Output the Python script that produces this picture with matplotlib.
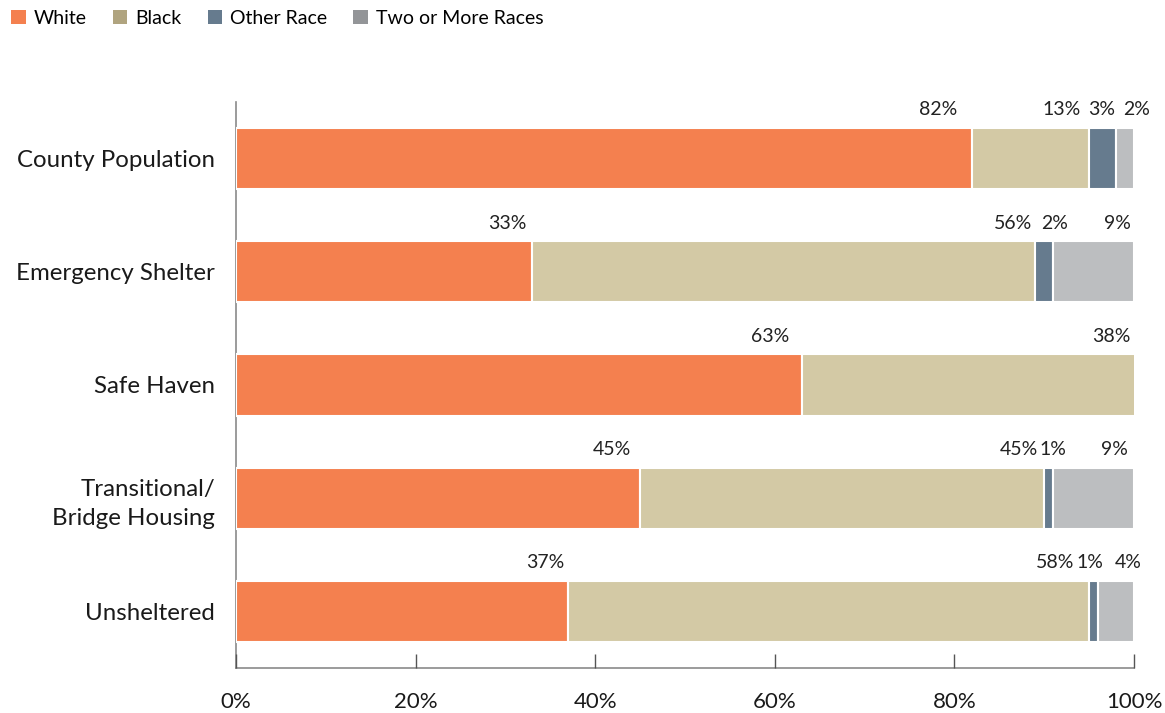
import numpy as np
import matplotlib.pyplot as plt
from matplotlib.patches import Patch

plt.rcParams['font.family'] = ['Lato', 'DejaVu Sans']

categories = ["County Population", "Emergency Shelter", "Safe Haven",
              "Transitional/\nBridge Housing", "Unsheltered"]
races = ["White", "Black", "Other Race", "Two or More Races"]

white = [82, 33, 63, 45, 37]
black = [13, 56, 38, 45, 58]
other = [3, 2, 0, 1, 1]
two_plus = [2, 9, 0, 9, 4]

bar_colors = ["#f4804f", "#d3c9a5", "#667b8e", "#bcbec0"]
legend_colors = ["#f4804f", "#b0a47f", "#667b8e", "#939598"]

# horizontal nudges (px) for the value labels, so small segments don't collide
label_nudge = [
    [-15, -8, -1, 16],
    [-6, -3, 15, -3],
    [-12, -12, 0, 0],
    [-9, -6, 13, -6],
    [-4, -15, 5, 8],
]

series = np.array([white, black, other, two_plus], dtype=float)
y = np.arange(len(categories))

fig = plt.figure(figsize=(11.65, 7.13), dpi=100)
ax = fig.add_axes([236 / 1165, 1 - 668 / 713, (1134 - 236) / 1165, (668 - 102) / 713])

left = np.zeros(len(categories))
for k in range(len(races)):
    ax.barh(y, series[k], left=left, height=0.54, color=bar_colors[k],
            edgecolor="white", linewidth=1.5, zorder=3)
    ends = left + series[k]
    for i in range(len(categories)):
        if series[k][i] <= 0:
            continue
        ax.annotate(f"{int(series[k][i])}%", xy=(ends[i], y[i] - 0.27),
                    xytext=(label_nudge[i][k] * 0.72, 7), textcoords="offset points",
                    ha="right", va="bottom", fontsize=14, color="#222222",
                    annotation_clip=False)
    left = ends

ax.set_xlim(0, 100)
ax.set_ylim(4.5, -0.5)
ax.set_yticks(y)
ax.set_yticklabels(categories, fontsize=17.3, color="#1a1a1a", linespacing=1.45)
ax.set_xticks([0, 20, 40, 60, 80, 100])
ax.set_xticklabels([f"{v}%" for v in [0, 20, 40, 60, 80, 100]], fontsize=16, color="#1a1a1a")

ax.tick_params(axis="y", length=0, pad=15)
ax.tick_params(axis="x", direction="in", length=10, width=1, color="#555555", pad=17)

for side in ["top", "right"]:
    ax.spines[side].set_visible(False)
for side in ["left", "bottom"]:
    ax.spines[side].set_color("#8a8a8a")
    ax.spines[side].set_linewidth(1.2)
    ax.spines[side].set_zorder(1)

handles = [Patch(facecolor=c, edgecolor="none", label=r) for c, r in zip(legend_colors, races)]
fig.legend(handles=handles, loc="upper left", bbox_to_anchor=(-0.002, 1.005), ncol=4,
           frameon=False, fontsize=14, handlelength=0.75, handleheight=0.75,
           handletextpad=0.4, columnspacing=1.35, borderaxespad=0.3)

fig.savefig("out.png", dpi=100)
